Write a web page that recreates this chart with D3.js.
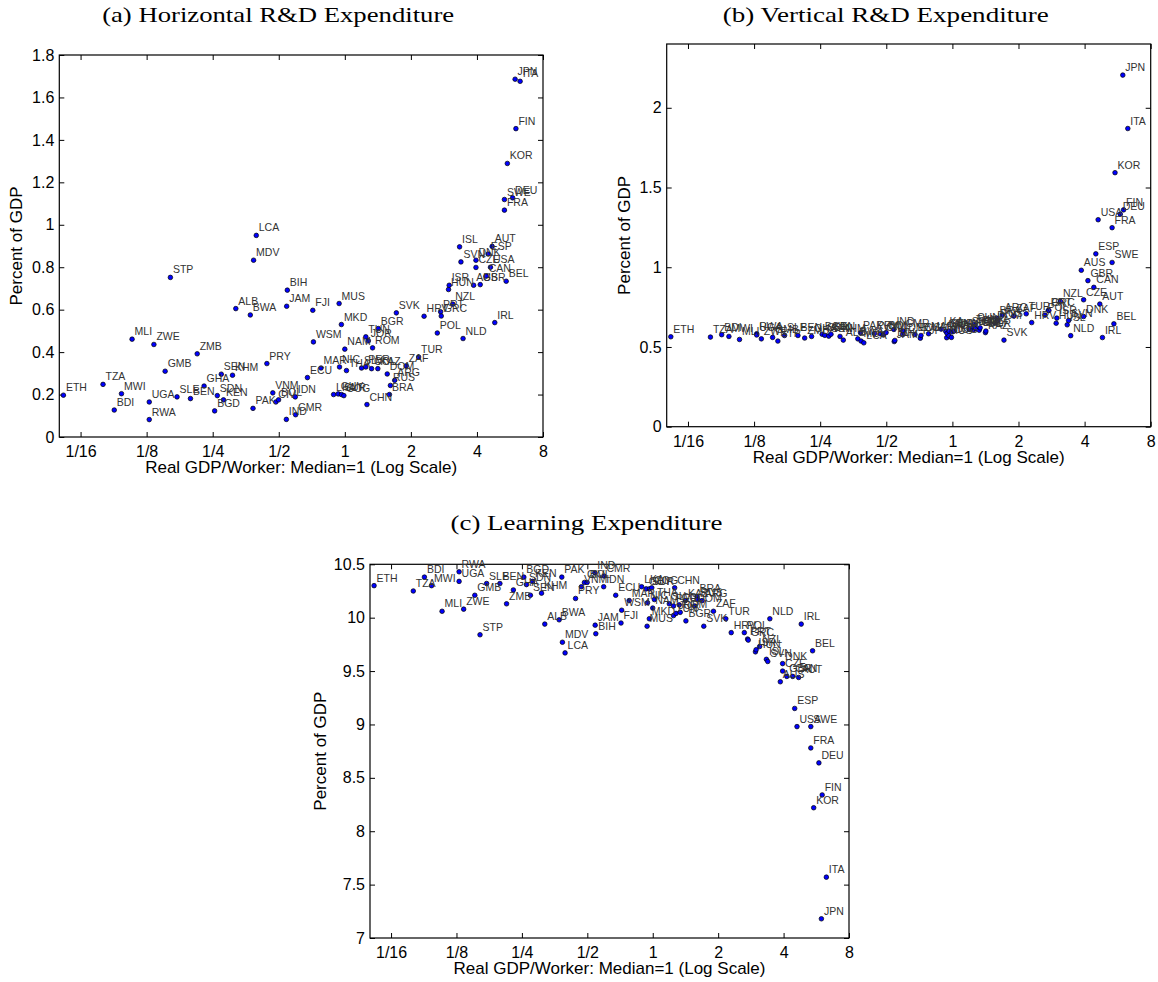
<!DOCTYPE html>
<html><head><meta charset="utf-8">
<script src="https://cdn.jsdelivr.net/npm/d3@7/dist/d3.min.js"></script>
<style>
body{margin:0;background:#fff;}
svg{display:block;}
</style></head><body>
<svg id="chart" width="1158" height="982"></svg>
<script>
// ---------------- DATA ----------------
const countries = ["ETH","TZA","BDI","MWI","MLI","RWA","UGA","ZWE","GMB","STP",
"SLE","BEN","ZMB","GHA","BGD","SDN","SEN","KEN","KHM","ALB",
"BWA","PAK","MDV","LCA","PRY","VNM","CIV","BOL","JAM","BIH",
"IND","CMR","IDN","ECU","FJI","WSM","MAR","LKA","GUY","NIC",
"MUS","SUR","MKD","COG","NAM","THA","SLV","PER","TUN","CHN",
"JOR","COL","ROM","KAZ","BGR","DOM","BRA","RUS","ARG","SVK",
"ZAF","TUR","HRV","POL","PRT","GRC","HUN","ISR","NZL","ISL",
"SVN","NLD","AUS","DNK","CZE","GBR","CAN","ESP","USA","AUT",
"IRL","SWE","FRA","BEL","KOR","DEU","JPN","FIN","ITA"];

// Real GDP per worker relative to the median (log-scale axis)
const gdpPerWorker = [0.0522,0.0791,0.089,0.096,0.1073,0.1285,0.1285,0.1349,0.1518,0.1604,
0.172,0.198,0.2125,0.2284,0.2552,0.2624,0.2736,0.280,0.3078,0.3186,
0.371,0.3816,0.384,0.395,0.4414,0.4697,0.485,0.499,0.5434,0.547,
0.5415,0.5968,0.5946,0.6755,0.7145,0.7195,0.7792,0.889,0.933,0.946,
0.942,0.966,0.9646,0.99,1.0,1.0175,1.192,1.2466,1.2466,1.2614,
1.28,1.324,1.338,1.414,1.421,1.5605,1.5966,1.6133,1.6878,1.7173,
1.903,2.169,2.297,2.639,2.732,2.751,2.969,2.99,3.104,3.334,
3.382,3.458,3.864,3.959,3.959,4.141,4.407,4.50,4.611,4.692,
4.823,5.337,5.337,5.438,5.503,5.815,5.971,6.021,6.293];

// (a) Horizontal R&D expenditure, percent of GDP
const horizontalRD = [0.197,0.248,0.127,0.204,0.461,0.082,0.165,0.436,0.31,0.752,
0.189,0.181,0.392,0.24,0.123,0.195,0.296,0.175,0.291,0.605,
0.575,0.135,0.833,0.95,0.346,0.208,0.165,0.175,0.616,0.692,
0.083,0.105,0.189,0.28,0.597,0.448,0.325,0.20,0.203,0.33,
0.629,0.20,0.53,0.195,0.414,0.313,0.325,0.33,0.472,0.153,
0.453,0.322,0.42,0.322,0.511,0.297,0.20,0.243,0.267,0.585,
0.335,0.377,0.569,0.49,0.59,0.57,0.695,0.715,0.626,0.896,
0.825,0.464,0.715,0.833,0.799,0.718,0.758,0.862,0.80,0.898,
0.539,1.119,1.069,0.734,1.289,1.127,1.686,1.453,1.676];

// (b) Vertical R&D expenditure, percent of GDP
const verticalRD = [0.564,0.562,0.577,0.566,0.547,0.583,0.575,0.551,0.560,0.537,
0.572,0.572,0.556,0.566,0.580,0.573,0.568,0.580,0.566,0.543,
0.551,0.589,0.537,0.526,0.585,0.583,0.575,0.590,0.534,0.541,
0.610,0.600,0.578,0.578,0.555,0.572,0.583,0.612,0.598,0.585,
0.558,0.600,0.570,0.560,0.595,0.600,0.610,0.608,0.625,0.640,
0.615,0.605,0.620,0.590,0.600,0.650,0.680,0.665,0.700,0.543,
0.694,0.708,0.653,0.700,0.729,0.729,0.649,0.681,0.786,0.639,
0.666,0.571,0.981,0.691,0.796,0.916,0.874,1.084,1.298,0.769,
0.559,1.030,1.248,0.645,1.593,1.333,2.205,1.360,1.870];

// (c) Learning expenditure, percent of GDP
const learningExp = [10.30,10.25,10.38,10.30,10.06,10.43,10.34,10.08,10.21,9.84,
10.32,10.32,10.13,10.26,10.38,10.31,10.21,10.34,10.23,9.94,
9.98,10.38,9.77,9.67,10.18,10.29,10.33,10.33,9.93,9.85,
10.42,10.39,10.29,10.21,9.95,10.07,10.16,10.29,10.27,10.14,
9.92,10.27,9.99,10.28,10.09,10.17,10.13,10.11,10.02,10.28,
10.04,10.12,10.05,10.16,9.97,10.11,10.20,10.17,10.16,9.92,
10.06,9.99,9.86,9.86,9.80,9.79,9.68,9.70,9.73,9.61,
9.59,9.99,9.40,9.57,9.50,9.45,9.45,9.15,8.98,9.44,
9.94,8.98,8.78,9.69,8.22,8.64,7.18,8.34,7.57];

const xTickValues = [1/16,1/8,1/4,1/2,1,2,4,8];
const xTickLabels = ["1/16","1/8","1/4","1/2","1","2","4","8"];
const yTicksA = [0,0.2,0.4,0.6,0.8,1,1.2,1.4,1.6,1.8];
const yTicksB = [0,0.5,1,1.5,2];
const yTicksC = [7,7.5,8,8.5,9,9.5,10,10.5];
const xDomain = [0.05, 8];
const titles = ["(a) Horizontal R&D Expenditure","(b) Vertical R&D Expenditure","(c) Learning Expenditure"];
const xLabel = "Real GDP/Worker: Median=1 (Log Scale)";
const yLabel = "Percent of GDP";

// ---------------- LAYOUT ----------------
const panels = [
  {title:titles[0], values:horizontalRD, yDomain:[0,1.8], yTicks:yTicksA,
   x0:59.3, x1:543, y0:55, y1:437, titleY:22, titleLen:352, ylabDx:43},
  {title:titles[1], values:verticalRD, yDomain:[0,2.4], yTicks:yTicksB,
   x0:666.7, x1:1150.7, y0:44, y1:426.7, titleY:22, titleLen:326, ylabDx:43},
  {title:titles[2], values:learningExp, yDomain:[7,10.5], yTicks:yTicksC,
   x0:370, x1:849, y0:564.3, y1:938, titleY:530, titleLen:272, ylabDx:50}
];

const svg = d3.select("#chart");
const sans = "'Liberation Sans', Arial, Helvetica, sans-serif";
const fmtY = v => String(+v.toFixed(1));

panels.forEach(p => {
  const x = d3.scaleLog().base(2).domain(xDomain).range([p.x0, p.x1]);
  const y = d3.scaleLinear().domain(p.yDomain).range([p.y1, p.y0]);
  const g = svg.append("g");

  // axes with inward ticks on all four sides
  const tick = 5;
  const bottom = g.append("g").attr("transform",`translate(0,${p.y1})`)
    .call(d3.axisBottom(x).tickValues(xTickValues).tickFormat((d,i)=>xTickLabels[i])
      .tickSizeInner(-tick).tickSizeOuter(0).tickPadding(8.5));
  const top = g.append("g").attr("transform",`translate(0,${p.y0})`)
    .call(d3.axisTop(x).tickValues(xTickValues).tickFormat("")
      .tickSizeInner(-tick).tickSizeOuter(0));
  const left = g.append("g").attr("transform",`translate(${p.x0},0)`)
    .call(d3.axisLeft(y).tickValues(p.yTicks).tickFormat(fmtY)
      .tickSizeInner(-tick).tickSizeOuter(0).tickPadding(5));
  const right = g.append("g").attr("transform",`translate(${p.x1},0)`)
    .call(d3.axisRight(y).tickValues(p.yTicks).tickFormat("")
      .tickSizeInner(-tick).tickSizeOuter(0));
  [bottom,top,left,right].forEach(a => {
    a.select(".domain").remove();
    a.selectAll("line").attr("stroke","#000").attr("stroke-width",1);
    a.selectAll("text").attr("font-family",sans).attr("font-size",16).attr("fill","#000");
  });

  // frame
  g.append("rect").attr("x",p.x0).attr("y",p.y0)
    .attr("width",p.x1-p.x0).attr("height",p.y1-p.y0)
    .attr("fill","none").attr("stroke","#000").attr("stroke-width",1.2);

  // points
  const data = countries.map((c,i)=>({c, gx:gdpPerWorker[i], v:p.values[i]}));
  g.append("g").selectAll("circle").data(data).join("circle")
    .attr("cx",d=>x(d.gx)).attr("cy",d=>y(d.v)).attr("r",2.3)
    .attr("fill","#0000ff").attr("stroke","#000").attr("stroke-width",0.7);
  g.append("g").selectAll("text").data(data).join("text")
    .attr("x",d=>x(d.gx)+2.5).attr("y",d=>y(d.v)-4)
    .attr("font-family",sans).attr("font-size",10.5).attr("fill","#333")
    .text(d=>d.c);

  // labels
  const cx = (p.x0+p.x1)/2, cy = (p.y0+p.y1)/2;
  g.append("text").attr("x",cx).attr("y",p.y1+36).attr("text-anchor","middle")
    .attr("font-family",sans).attr("font-size",17).attr("fill","#000").text(xLabel);
  g.append("text").attr("transform",`translate(${p.x0-p.ylabDx},${cy}) rotate(-90)`)
    .attr("text-anchor","middle").attr("dy","0.35em")
    .attr("font-family",sans).attr("font-size",17).attr("fill","#000").text(yLabel);
  g.append("text").attr("x",cx-23).attr("y",p.titleY).attr("text-anchor","middle")
    .attr("font-family","'Liberation Serif','Times New Roman',serif").attr("font-size",21)
    .attr("textLength",p.titleLen).attr("lengthAdjust","spacingAndGlyphs")
    .attr("fill","#000").text(p.title);
});
</script>
</body></html>
